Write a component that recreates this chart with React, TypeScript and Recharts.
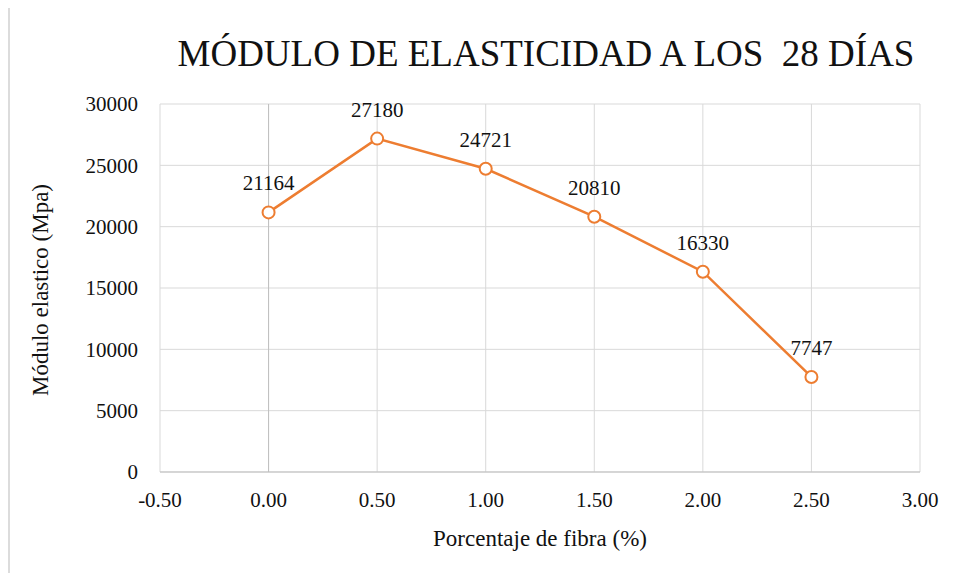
import React from "react";
import {
  LineChart,
  Line,
  XAxis,
  YAxis,
  CartesianGrid,
  ReferenceLine,
  LabelList,
  Label,
} from "recharts";

const fiberPct = [0, 0.5, 1.0, 1.5, 2.0, 2.5];
const modulus = [21164, 27180, 24721, 20810, 16330, 7747];
const xTicks = [-0.5, 0, 0.5, 1.0, 1.5, 2.0, 2.5, 3.0];
const yTicks = [0, 5000, 10000, 15000, 20000, 25000, 30000];

const data = fiberPct.map((x, i) => ({ x, y: modulus[i] }));

const FONT = "Liberation Serif, DejaVu Serif, serif";
const ORANGE = "#ED7D31";

export default function App() {
  return (
    <div
      style={{
        position: "relative",
        width: 958,
        height: 581,
        margin: -8,
        background: "#fff",
        fontFamily: FONT,
      }}
    >
      <div
        style={{
          position: "absolute",
          left: 7,
          top: 5,
          width: 951,
          height: 576,
          borderTop: "3px solid #dcdcdc",
          borderLeft: "3px solid #dcdcdc",
          boxSizing: "border-box",
        }}
      />
      <div
        style={{
          position: "absolute",
          left: 0,
          top: 32,
          width: 1092,
          textAlign: "center",
          fontSize: 37,
          color: "#111",
          whiteSpace: "pre",
          lineHeight: "44px",
        }}
      >
        MÓDULO DE ELASTICIDAD A LOS  28 DÍAS
      </div>
      <div style={{ position: "absolute", left: 0, top: 0 }}>
        <LineChart
          width={958}
          height={581}
          data={data}
          margin={{ top: 104, right: 38, bottom: 29, left: 100 }}
          style={{ fontFamily: FONT }}
        >
          <CartesianGrid stroke="#d9d9d9" strokeWidth={1} />
          <XAxis
            type="number"
            dataKey="x"
            domain={[-0.5, 3]}
            ticks={xTicks}
            tickFormatter={(v: number) => v.toFixed(2)}
            tick={{ fill: "#111", fontSize: 21, fontFamily: FONT }}
            tickLine={false}
            tickSize={0}
            tickMargin={20}
            axisLine={{ stroke: "#bfbfbf" }}
            height={80}
            interval={0}
          >
            <Label
              content={() => (
                <text
                  x={540}
                  y={546}
                  textAnchor="middle"
                  fontSize={23}
                  fontFamily={FONT}
                  fill="#111"
                >
                  Porcentaje de fibra (%)
                </text>
              )}
            />
          </XAxis>
          <YAxis
            type="number"
            domain={[0, 30000]}
            ticks={yTicks}
            tick={{ fill: "#111", fontSize: 21, fontFamily: FONT }}
            tickLine={false}
            tickSize={0}
            tickMargin={22}
            axisLine={false}
            width={60}
            interval={0}
          >
            <Label
              content={() => (
                <text
                  x={40}
                  y={290}
                  transform="rotate(-90 40 290)"
                  textAnchor="middle"
                  fontSize={23}
                  fontFamily={FONT}
                  fill="#111"
                  dy={8}
                >
                  Módulo elastico (Mpa)
                </text>
              )}
            />
          </YAxis>
          <ReferenceLine x={0} stroke="#bfbfbf" strokeWidth={1} />
          <Line
            type="linear"
            dataKey="y"
            stroke={ORANGE}
            strokeWidth={2.5}
            dot={{ r: 6, stroke: ORANGE, strokeWidth: 2, fill: "#fff" }}
            isAnimationActive={false}
          >
            <LabelList
              dataKey="y"
              position="top"
              offset={22}
              fill="#111"
              fontSize={21}
              fontFamily={FONT}
            />
          </Line>
        </LineChart>
      </div>
    </div>
  );
}
